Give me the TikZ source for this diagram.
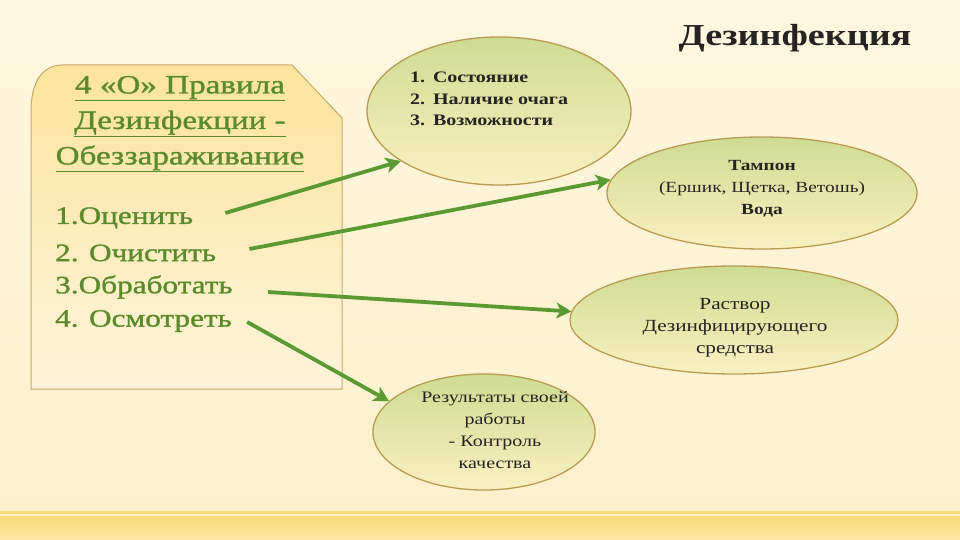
\documentclass[tikz,border=0pt]{standalone}
\usepackage{fontspec}
\setmainfont{Liberation Serif}[FakeStretch=1.25]
\newfontfamily\greenfam{Liberation Serif}[FakeStretch=1.25,FakeBold=1.2]
\usetikzlibrary{shapes.geometric,arrows.meta}
\definecolor{bgtop}{HTML}{FEF7E0}
\definecolor{bgbot}{HTML}{FCF0CC}
\definecolor{bandline}{HTML}{F7D973}
\definecolor{band}{HTML}{FDE8A6}
\definecolor{paneltop}{HTML}{FBE49C}
\definecolor{panelbot}{HTML}{FEF4DB}
\definecolor{panelborder}{HTML}{C6A867}
\definecolor{greentext}{HTML}{5A8A2B}
\definecolor{arrowgreen}{HTML}{5B9A33}
\definecolor{elltop}{HTML}{CEDC92}
\definecolor{ellbot}{HTML}{FAF0C2}
\definecolor{ellborder}{HTML}{B99C52}
\definecolor{darktext}{HTML}{262420}
\tikzset{
  ell/.style={shape=ellipse, draw=ellborder, line width=1.3pt, top color=elltop, bottom color=ellbot, inner sep=0pt},
  lefttitle/.style={text=greentext, align=center, font=\greenfam\fontsize{26.5}{35.5}\selectfont},
  listitem/.style={text=greentext, anchor=west, inner sep=0pt, font=\greenfam\fontsize{25}{30}\selectfont},
  elltext/.style={text=darktext, align=center, font=\fontsize{16}{22}\selectfont},
  arr/.style={draw=arrowgreen, line width=3.8pt, -{Stealth[length=15pt,width=16pt,inset=4pt]}}
}
\begin{document}
\begin{tikzpicture}[x=1pt,y=-1pt]
\useasboundingbox (0,0) rectangle (960,540);
% background
\fill[top color=bgtop, bottom color=bgbot] (0,0) rectangle (960,512);
\fill[top color=bandline, bottom color=band] (0,512) rectangle (960,540);
\fill[bandline] (0,511) rectangle (960,514);
\fill[band!60!white] (0,514) rectangle (960,516);
% left panel
\draw[panelborder, line width=1pt, top color=paneltop, bottom color=panelbot]
  (31,112) .. controls (31,82) and (42,65) .. (63,65) -- (292,65) -- (342,118) -- (342,389) -- (31,389) -- cycle;
\node[lefttitle] (ttl) at (180,124) {\underline{4 «О» Правила}\\\underline{Дезинфекции -}\\\underline{Обеззараживание}};
\node[listitem] (l1) at (55,218) {1.Оценить};
\node[listitem] (l2) at (55,253) {2. Очистить};
\node[listitem] (l3) at (55,287) {3.Обработать};
\node[listitem] (l4) at (55,321) {4. Осмотреть};
% title
\node[text=darktext, font=\bfseries\fontsize{30.5}{34}\selectfont] (title) at (795,38) {Дезинфекция};
% ellipses
\node[ell, minimum width=264pt, minimum height=148pt] (e1) at (499,111) {};
\node[ell, minimum width=310pt, minimum height=112pt] (e2) at (762,193) {};
\node[ell, minimum width=328pt, minimum height=108pt] (e3) at (734,320) {};
\node[ell, minimum width=222pt, minimum height=116pt] (e4) at (484,432) {};
% ellipse texts
\node[elltext, align=left, font=\bfseries\fontsize{16}{21.5}\selectfont] (e1t) at (489,99)
  {1.\hspace{8pt}Состояние\\2.\hspace{8pt}Наличие очага\\3.\hspace{8pt}Возможности};
\node[elltext, font=\fontsize{15.5}{22}\selectfont] (e2t) at (762,189) {\textbf{Тампон}\\(Ершик, Щетка, Ветошь)\\\textbf{Вода}};
\node[elltext, font=\fontsize{17}{22}\selectfont] (e3t) at (735,328) {Раствор\\Дезинфицирующего\\средства};
\node[elltext, font=\fontsize{16}{22}\selectfont] (e4t) at (495,430) {Результаты своей\\работы\\- Контроль\\качества};
% arrows
\draw[arr] ([xshift=32pt,yshift=5pt]l1.east) -- (e1.207);
\draw[arr] ([xshift=33pt,yshift=4pt]l2.east) -- (e2.175);
\draw[arr] ([xshift=35pt,yshift=-5pt]l3.east) -- (e3.177);
\draw[arr] ([xshift=15pt,yshift=-1pt]l4.east) -- (e4.162);
\end{tikzpicture}
\end{document}
